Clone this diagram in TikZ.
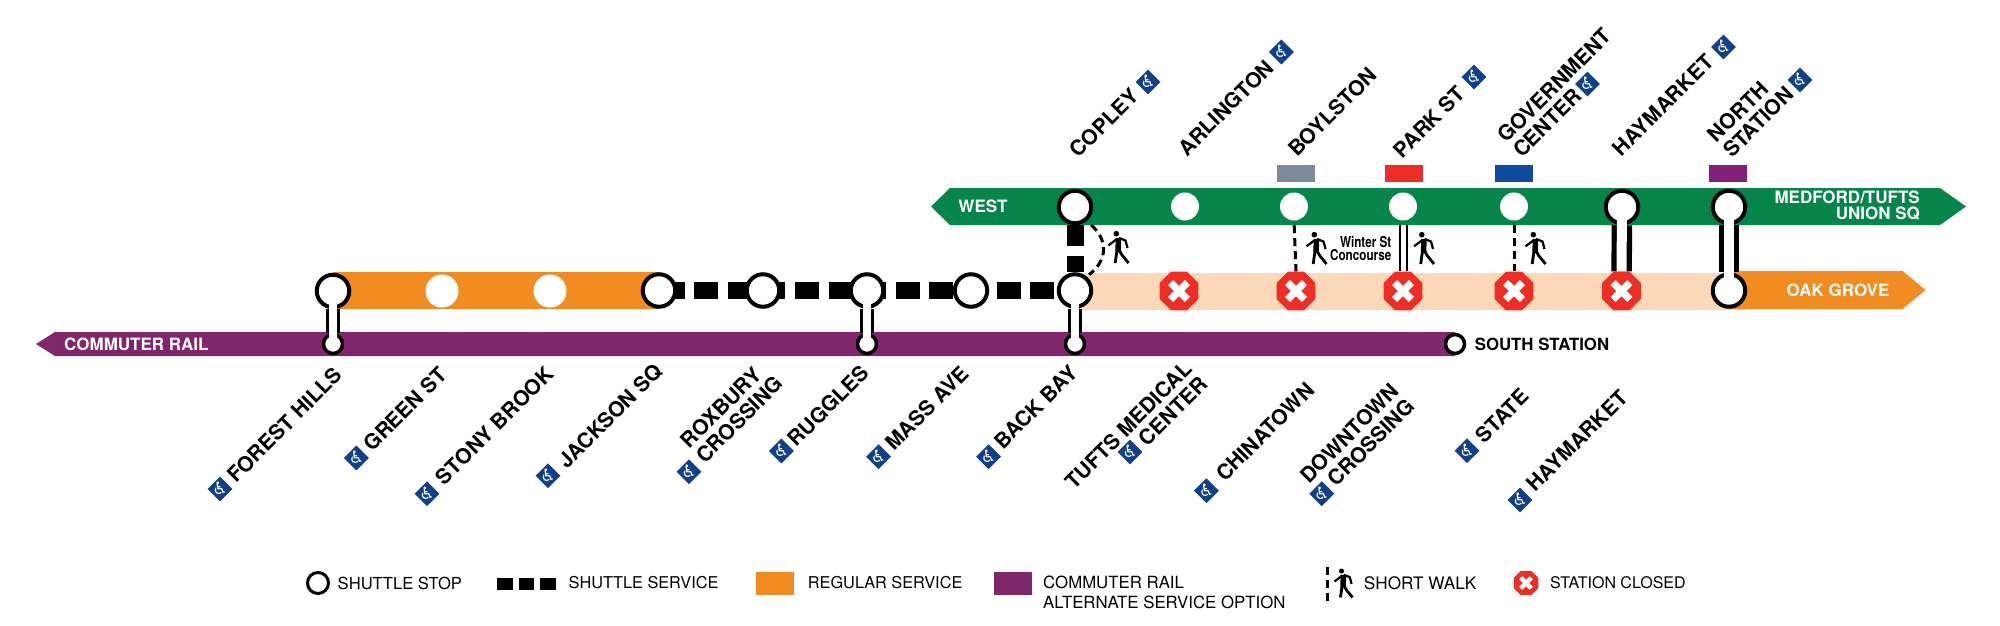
\documentclass[tikz,border=0pt]{standalone}
\usepackage{fontspec}
\setmainfont{TeX Gyre Heros}
\newfontfamily\narrowfont[FakeStretch=0.78]{TeX Gyre Heros}
\newfontfamily\symbolfont{DejaVu Sans}
\newcommand{\adaglyph}{\smash{\makebox[0pt]{\raisebox{-5.8pt}{\symbolfont\fontsize{17}{17}\selectfont ♿}}}}
\usetikzlibrary{shapes.geometric, positioning, backgrounds}
\definecolor{greenline}{HTML}{05854A}
\definecolor{orangeline}{HTML}{F28C20}
\definecolor{orangepale}{HTML}{FBD9B8}
\definecolor{purpleline}{HTML}{80276C}
\definecolor{closedred}{HTML}{EE2E24}
\definecolor{tagsilver}{HTML}{7C8A99}
\definecolor{tagblue}{HTML}{0D4C9D}
\definecolor{tagpurple}{HTML}{80207A}
\definecolor{adablue}{HTML}{103F8C}
\tikzset{
  bigring/.style={circle, draw=black, fill=white, line width=4pt, inner sep=0pt, minimum size=32.5pt},
  smallring/.style={circle, draw=black, fill=white, line width=3.5pt, inner sep=0pt, minimum size=19pt},
  keyring/.style={circle, draw=black, fill=white, line width=3pt, inner sep=0pt, minimum size=21pt},
  whitedot/.style={circle, fill=white, inner sep=0pt, minimum size=#1},
  closedstop/.style={regular polygon, regular polygon sides=8, fill=closedred, inner sep=0pt, minimum size=#1,
              path picture={\draw[white, line width=0.17pt*#1]
                (path picture bounding box.center) +(-0.2*#1,-0.2*#1) -- +(0.2*#1,0.2*#1)
                (path picture bounding box.center) +(-0.2*#1,0.2*#1) -- +(0.2*#1,-0.2*#1);}},
  linetag/.style={fill=#1, inner sep=0pt, minimum width=38pt, minimum height=17pt},
  keybox/.style={fill=#1, inner sep=0pt, minimum width=37.5pt, minimum height=23.5pt},
  keysquare/.style={fill=black, inner sep=0pt, minimum width=15.5pt, minimum height=12pt},
  adaicon/.style={diamond, fill=adablue, text=white, inner sep=0pt, minimum size=25pt},
  stationtext/.style={rotate=45, inner sep=0pt, font=\fontsize{21}{21.6}\selectfont\bfseries},
  bandtext/.style={inner sep=0pt, text=white, font=\fontsize{17}{16.7}\selectfont\bfseries},
  keytext/.style={inner sep=0pt, anchor=west, align=left, font=\fontsize{#1}{20}\selectfont},
  shuttleline/.style={black, line width=17pt, dash pattern=on #1},
  walkline/.style={black, line width=3pt, dash pattern=on 8pt off 5pt},
  wideneck/.style={black, line width=20.5pt},
  wideneckin/.style={white, line width=10pt},
  thinneck/.style={black, line width=13.5pt},
  thinneckin/.style={white, line width=7.5pt},
  walker/.pic={
    \fill[black] (-1.7,-13.3) circle (2.8);
    \draw[black, line width=5.5pt] (0.5,-9) -- (0,4);
    \draw[black, line width=2.2pt, line join=round] (-9.5,-1.7) -- (-1,-8) (1,-9) -- (7.5,-6.5) -- (9.5,1);
    \draw[black, line width=2.8pt, line join=round] (-1,3) -- (-2.8,16) (1,3) -- (4,8) -- (10.5,16);
  },
}
\begin{document}
\begin{tikzpicture}[x=1pt, y=-1pt]
  \useasboundingbox (0,0) rectangle (2000,626);

  % upper line
  \node[bigring] (copley) at (1075,207) {};
  \node[whitedot=28pt] (arlington) at (1185,206.5) {};
  \node[whitedot=28pt] (boylston) at (1294,206.5) {};
  \node[whitedot=28pt] (parkst) at (1403,206.5) {};
  \node[whitedot=28pt] (govcenter) at (1514,206.5) {};
  \node[bigring] (haymarket) at (1622,207) {};
  \node[bigring] (northstation) at (1729,207) {};

  % lower line
  \node[bigring] (foresthills) at (333,291) {};
  \node[whitedot=33pt] (greenst) at (442,291) {};
  \node[whitedot=33pt] (stonybrook) at (550,291) {};
  \node[bigring] (jacksonsq) at (659,290.5) {};
  \node[bigring] (roxbury) at (763,290.5) {};
  \node[bigring] (ruggles) at (867,290.5) {};
  \node[bigring] (massave) at (971,290.5) {};
  \node[bigring] (backbay) at (1075,290.5) {};
  \node[closedstop=42pt] (tufts) at (1179,291) {};
  \node[closedstop=42pt] (chinatown) at (1296,291) {};
  \node[closedstop=42pt] (downtown) at (1403,291) {};
  \node[closedstop=42pt] (state) at (1514,291) {};
  \node[closedstop=42pt] (haymarketlow) at (1621.5,291) {};
  \node[bigring] (northlow) at (1729,290.5) {};

  % commuter rail
  \node[smallring] (foresthillscr) at (333,344) {};
  \node[smallring] (rugglescr) at (867,344) {};
  \node[smallring] (backbaycr) at (1075,344) {};
  \node[smallring] (southstation) at (1455,344) {};

  \begin{scope}[on background layer]
    \fill[purpleline] (36,344) -- (55,332) -- (1455,332) -- (1455,356) -- (55,356) -- cycle;
    \fill[orangepale] (1075,273) rectangle (1745,310);
    \fill[orangeline] (333,272) rectangle (659,309);
    \fill[orangeline] (1729,271) -- (1902.5,271) -- (1925.5,290) -- (1902.5,309) -- (1729,309) -- cycle;
    \fill[greenline] (931,206.5) -- (950,188) -- (1940,188) -- (1966,206.5) -- (1940,225) -- (950,225) -- cycle;
    \draw[shuttleline={24pt off 9.6pt}, dash phase=32.1pt] (jacksonsq.center) -- (backbay.center);
    \draw[shuttleline={21pt off 10pt}] (copley.south) -- (backbay.north);
  \end{scope}

  \draw[wideneck] (haymarket) -- (haymarketlow);
  \draw[wideneckin] (haymarket.center) -- (haymarketlow.north);
  \draw[wideneck] (northstation) -- (northlow);
  \draw[wideneckin] (northstation.center) -- (northlow.center);
  \draw[thinneck] (foresthills) -- (foresthillscr);
  \draw[thinneckin] (foresthills.center) -- (foresthillscr.center);
  \draw[thinneck] (ruggles) -- (rugglescr);
  \draw[thinneckin] (ruggles.center) -- (rugglescr.center);
  \draw[thinneck] (backbay) -- (backbaycr);
  \draw[thinneckin] (backbay.center) -- (backbaycr.center);

  \draw[walkline, shorten <=6pt, shorten >=3pt] (copley.-50) .. controls (1108,240) and (1108,260) .. (backbay.50);
  \draw[walkline, shorten <=4.5pt] (boylston.south) -- (chinatown.north);
  \draw[walkline, shorten <=4.5pt] (govcenter.south) -- (state.north);
  \draw[black, line width=2pt, double=white, double distance=5pt, shorten <=4.5pt] (parkst.south) -- (downtown.north);

  \pic at (1118,247) {walker};
  \pic at (1316,248) {walker};
  \pic at (1423.5,248) {walker};
  \pic at (1535,248) {walker};
  \node[inner sep=0pt, align=right, anchor=east, font=\narrowfont\fontsize{15}{13.3}\selectfont\bfseries] (winterst) at (1391.5,248.5) {Winter St\\Concourse};

  % line tags
  \node[linetag=tagsilver] (boylstontag) at (1296,173.5) {};
  \node[linetag=closedred] (parksttag) at (1404,173.5) {};
  \node[linetag=tagblue] (govtag) at (1514,173.5) {};
  \node[linetag=tagpurple] (northtag) at (1728,173.5) {};

  % band labels
  \node[bandtext] (westlabel) at (983,206.7) {WEST};
  \node[bandtext, anchor=east, align=right] (medfordlabel) at (1920,205.5) {MEDFORD/TUFTS\\UNION SQ};
  \node[bandtext] (oaklabel) at (1838,290) {OAK GROVE};
  \node[bandtext, anchor=west] (raillabel) at (64,344) {COMMUTER RAIL};
  \node[inner sep=0pt, anchor=west, font=\fontsize{16.8}{20}\selectfont\bfseries] (southlabel) at (1474.6,344) {SOUTH STATION};

  % labels above
  \node[stationtext] (copleytext) at (1104,123) {COPLEY};
  \node[adaicon] (copleyada) at (1148,82) {\adaglyph};
  \node[stationtext] (arlingtontext) at (1226,108) {ARLINGTON};
  \node[adaicon] (arlingtonada) at (1281.4,52) {\adaglyph};
  \node[stationtext] (boylstontext) at (1332.5,112) {BOYLSTON};
  \node[stationtext] (parksttext) at (1429,122) {PARK ST};
  \node[adaicon] (parkstada) at (1474,77) {\adaglyph};
  \node[stationtext, anchor=west, align=left] (govtext) at (1509,146) {GOVERNMENT\\CENTER};
  \node[adaicon] (govada) at (1587.4,84) {\adaglyph};
  \node[stationtext] (haymarkettext) at (1663,105) {HAYMARKET};
  \node[adaicon] (haymarketada) at (1723.4,47) {\adaglyph};
  \node[stationtext, anchor=west, align=left] (northtext) at (1719,146) {NORTH\\STATION};
  \node[adaicon] (northada) at (1800,80) {\adaglyph};

  % labels below
  \node[stationtext] (foresttext) at (284.6,425) {FOREST HILLS};
  \node[adaicon] (forestada) at (220,489) {\adaglyph};
  \node[stationtext] (greentext) at (405,409) {GREEN ST};
  \node[adaicon] (greenada) at (356.4,458) {\adaglyph};
  \node[stationtext] (stonytext) at (494.6,425.7) {STONY BROOK};
  \node[adaicon] (stonyada) at (427,493.7) {\adaglyph};
  \node[stationtext] (jacksontext) at (610.6,416) {JACKSON SQ};
  \node[adaicon] (jacksonada) at (548,475.7) {\adaglyph};
  \node[stationtext, anchor=west, align=left] (roxburytext) at (692,451.7) {ROXBURY\\CROSSING};
  \node[adaicon] (roxburyada) at (689,471.7) {\adaglyph};
  \node[stationtext] (rugglestext) at (828,405.7) {RUGGLES};
  \node[adaicon] (rugglesada) at (781.4,451) {\adaglyph};
  \node[stationtext] (masstext) at (927,408) {MASS AVE};
  \node[adaicon] (massada) at (878.6,456.7) {\adaglyph};
  \node[stationtext] (backbaytext) at (1035.7,407) {BACK BAY};
  \node[adaicon] (backbayada) at (988.6,456.7) {\adaglyph};
  \node[stationtext, anchor=east, align=right] (tuftstext) at (1196,373) {TUFTS MEDICAL\\CENTER};
  \node[adaicon] (tuftsada) at (1130,452) {\adaglyph};
  \node[stationtext] (chinatowntext) at (1265,432) {CHINATOWN};
  \node[adaicon] (chinatownada) at (1206.4,490.7) {\adaglyph};
  \node[stationtext, anchor=east, align=right] (downtowntext) at (1403,395) {DOWNTOWN\\CROSSING};
  \node[adaicon] (downtownada) at (1321.8,493.7) {\adaglyph};
  \node[stationtext] (statetext) at (1502,415.7) {STATE};
  \node[adaicon] (stateada) at (1467,450.7) {\adaglyph};
  \node[stationtext] (haymarketlowtext) at (1577,440.7) {HAYMARKET};
  \node[adaicon] (haymarketlowada) at (1520,500) {\adaglyph};

  % key
  \node[keyring] (keystop) at (318,583) {};
  \node[keytext=16.6] (keystoptext) at (337.5,583) {SHUTTLE STOP};
  \node[keysquare] (keysq1) at (505,583.5) {};
  \node[keysquare] (keysq2) at (526.7,583.5) {};
  \node[keysquare] (keysq3) at (548.2,583.5) {};
  \node[keytext=16.3] (keyservicetext) at (568.5,583) {SHUTTLE SERVICE};
  \node[keybox=orangeline] (keyregular) at (775.2,583.5) {};
  \node[keytext=16.3] (keyregulartext) at (807.7,583) {REGULAR SERVICE};
  \node[keybox=purpleline] (keyrail) at (1013,583.5) {};
  \node[keytext=16.8, anchor=north west] (keyrailtext) at (1043,576) {COMMUTER RAIL\\ALTERNATE SERVICE OPTION};
  \coordinate (keywalktop) at (1327,566.7);
  \coordinate (keywalkend) at (1327,601.7);
  \draw[walkline] (keywalktop) -- (keywalkend);
  \pic[scale=0.9] at (1343,583) {walker};
  \node[keytext=17.2] (keywalktext) at (1363.7,583) {SHORT WALK};
  \node[closedstop=26.5pt] (keyclosed) at (1526,583) {};
  \node[keytext=16] (keyclosedtext) at (1550,583) {STATION CLOSED};
\end{tikzpicture}
\end{document}
